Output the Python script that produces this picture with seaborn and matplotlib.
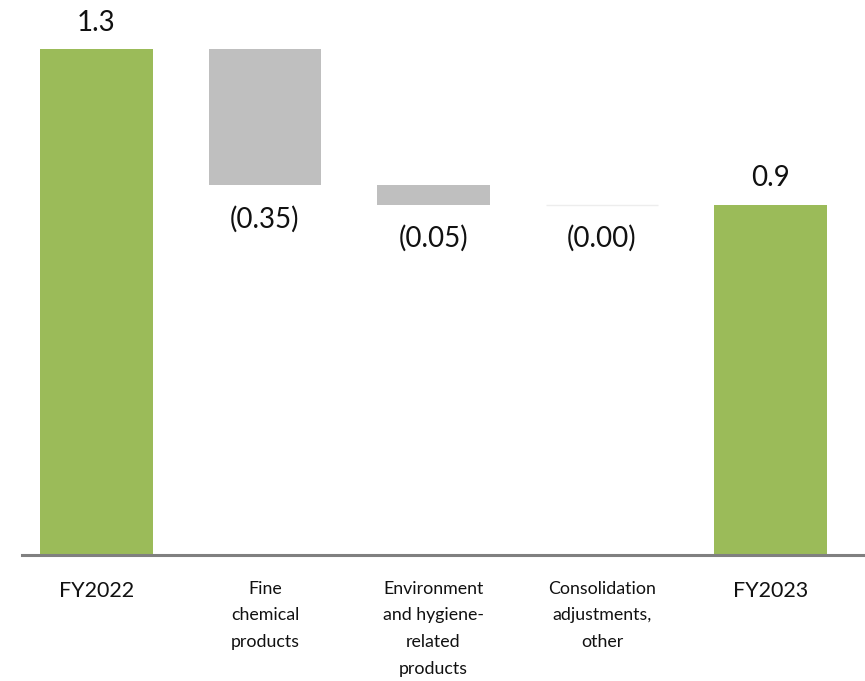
import matplotlib
matplotlib.use("Agg")
import matplotlib.pyplot as plt
import seaborn as sns
import pandas as pd

# Operating profit bridge, FY2022 -> FY2023
categories = [
    "FY2022",
    "Fine\nchemical\nproducts",
    "Environment\nand hygiene-\nrelated\nproducts",
    "Consolidation\nadjustments,\nother",
    "FY2023",
]
start_total = 1.3
changes = [-0.35, -0.05, -0.00]
end_total = 0.9

GREEN = "#9BBB59"
GREY = "#BFBFBF"
AXIS_GREY = "#808080"

sns.set_style("white")
plt.rcParams["font.family"] = ["Lato", "DejaVu Sans"]

# Build waterfall geometry: totals stand on zero, changes float on the running sum
bottoms, heights = [0.0], [start_total]
running = start_total
for c in changes:
    new = running + c
    bottoms.append(min(running, new))
    heights.append(abs(c))
    running = new
bottoms.append(0.0)
heights.append(end_total)

df = pd.DataFrame({"category": categories, "height": heights})

fig = plt.figure(figsize=(8.65, 6.81), dpi=100)
ax = fig.add_axes([22 / 865, 126 / 681, 843 / 865, 555 / 681])

sns.barplot(data=df, x="category", y="height", order=categories,
            bottom=bottoms, color=GREY, width=0.67, saturation=1,
            errorbar=None, linewidth=0, ax=ax)

is_total = [True, False, False, False, True]
for patch, total, h in zip(ax.patches, is_total, heights):
    if total:
        patch.set_facecolor(GREEN)
    if h == 0:
        patch.set_edgecolor("#EDEDED")
        patch.set_linewidth(1.0)

# Value labels
values = [start_total] + changes + [end_total]
for i, (v, total) in enumerate(zip(values, is_total)):
    top = bottoms[i] + heights[i]
    if total:
        ax.annotate(f"{v:.1f}", (i, top), xytext=(0, 19),
                    textcoords="offset points", ha="center", va="center",
                    fontsize=20, color="#111111")
    else:
        ax.annotate(f"({abs(v):.2f})", (i, bottoms[i]), xytext=(0, -24.5),
                    textcoords="offset points", ha="center", va="center",
                    fontsize=20, color="#111111")

ax.set_xlim(-0.442, 4.561)
ax.set_ylim(0, 1.426)
ax.set_xlabel("")
ax.set_ylabel("")
ax.set_yticks([])

for s in ["top", "right", "left"]:
    ax.spines[s].set_visible(False)
ax.spines["bottom"].set_color(AXIS_GREY)
ax.spines["bottom"].set_linewidth(2.2)

ax.tick_params(axis="x", length=0, pad=18.5)
for lbl, total in zip(ax.get_xticklabels(), is_total):
    lbl.set_fontsize(15.5 if total else 12.8)
    lbl.set_linespacing(1.83)
    lbl.set_color("#111111")

fig.savefig("out.png", dpi=100)
